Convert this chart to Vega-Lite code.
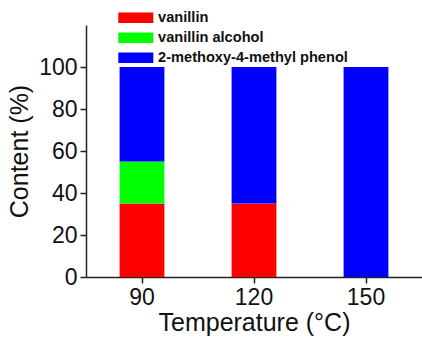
{
  "$schema": "https://vega.github.io/schema/vega-lite/v6.json",
  "autosize": {"type": "none"},
  "padding": {"left": 86, "top": 25, "right": 0, "bottom": 60},
  "width": 336,
  "height": 252,
  "background": "white",
  "config": {
    "font": "Liberation Sans",
    "view": {"stroke": null},
    "axis": {
      "domainColor": "#222222",
      "domainWidth": 1.5,
      "tickColor": "#222222",
      "tickWidth": 1.5,
      "tickSize": 6,
      "grid": false,
      "labelFont": "Liberation Sans",
      "labelFontSize": 23,
      "labelColor": "#111111",
      "titleFont": "Liberation Sans",
      "titleFontSize": 25,
      "titleFontWeight": "normal",
      "titleColor": "#111111"
    }
  },
  "data": {
    "values": [
      {"temp": "90", "compound": "vanillin", "k": 1, "value": 35},
      {"temp": "90", "compound": "vanillin alcohol", "k": 2, "value": 20},
      {"temp": "90", "compound": "2-methoxy-4-methyl phenol", "k": 3, "value": 45},
      {"temp": "120", "compound": "vanillin", "k": 1, "value": 35},
      {"temp": "120", "compound": "2-methoxy-4-methyl phenol", "k": 3, "value": 65},
      {"temp": "150", "compound": "2-methoxy-4-methyl phenol", "k": 3, "value": 100}
    ]
  },
  "mark": {"type": "bar"},
  "encoding": {
    "x": {
      "field": "temp",
      "type": "ordinal",
      "sort": ["90", "120", "150"],
      "scale": {"paddingInner": 0.6, "paddingOuter": 0.3},
      "axis": {"labelAngle": 0, "title": "Temperature (°C)", "labelPadding": 3, "titlePadding": 1}
    },
    "y": {
      "field": "value",
      "type": "quantitative",
      "stack": "zero",
      "scale": {"domain": [0, 120], "nice": false},
      "axis": {"values": [0, 20, 40, 60, 80, 100], "title": "Content (%)", "labelPadding": 3, "titlePadding": 6}
    },
    "color": {
      "field": "compound",
      "type": "nominal",
      "scale": {
        "domain": ["vanillin", "vanillin alcohol", "2-methoxy-4-methyl phenol"],
        "range": ["#FF0000", "#00FF00", "#0000FF"]
      },
      "legend": {
        "title": null,
        "orient": "none",
        "legendX": 42.5,
        "legendY": -14.5,
        "padding": 0,
        "symbolType": "M-2.92,-0.875H2.92V0.875H-2.92Z",
        "symbolSize": 144,
        "symbolStrokeWidth": 0,
        "symbolOpacity": 1,
        "rowPadding": 5,
        "labelOffset": 15,
        "labelFont": "Liberation Sans",
        "labelFontSize": 14.6,
        "labelFontWeight": "bold",
        "labelColor": "#111111",
        "labelLimit": 300
      }
    },
    "order": {"field": "k", "type": "quantitative", "sort": "ascending"}
  }
}
